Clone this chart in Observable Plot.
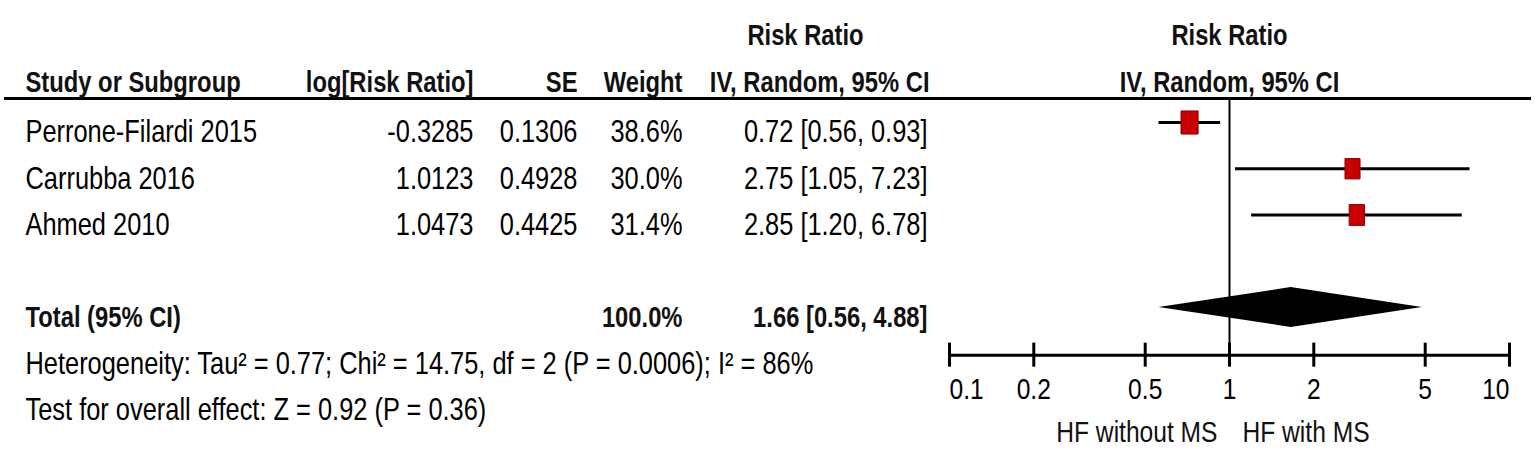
<!DOCTYPE html>
<html><head><meta charset="utf-8">
<script src="https://cdn.jsdelivr.net/npm/d3@7"></script>
<script src="https://cdn.jsdelivr.net/npm/@observablehq/plot@0.6"></script>
<style>html,body{margin:0;padding:0;background:#fff;} #chart svg{display:block;}</style>
</head><body><div id="chart"></div>
<script>
// ---- data ----
const studies = ["Perrone-Filardi 2015", "Carrubba 2016", "Ahmed 2010"];
const logRR = [-0.3285, 1.0123, 1.0473];
const se = [0.1306, 0.4928, 0.4425];
const weight = [38.6, 30.0, 31.4];
const rr = [0.72, 2.75, 2.85];
const ciLow = [0.56, 1.05, 1.20];
const ciHigh = [0.93, 7.23, 6.78];
const totalLabel = "Total (95% CI)";
const totalWeight = 100.0;
const totalRR = 1.66, totalLow = 0.56, totalHigh = 4.88;
const heterogeneity = "Heterogeneity: Tau\u00B2 = 0.77; Chi\u00B2 = 14.75, df = 2 (P = 0.0006); I\u00B2 = 86%";
const overallTest = "Test for overall effect: Z = 0.92 (P = 0.36)";
const tickValues = [0.1, 0.2, 0.5, 1, 2, 5, 10];
const tickLabels = ["0.1", "0.2", "0.5", "1", "2", "5", "10"];
const headerTop = "Risk Ratio";
const headerCols = ["Study or Subgroup", "log[Risk Ratio]", "SE", "Weight", "IV, Random, 95% CI"];
const favoursLeft = "HF without MS";
const favoursRight = "HF with MS";

// ---- font detection ----
function hasFont(name) {
  const c = document.createElement("canvas").getContext("2d");
  const s = "Perrone-Filardi 2015 Heterogeneity WMi";
  c.font = "30px monospace"; const a = c.measureText(s).width;
  c.font = `30px '${name}', monospace`; const b = c.measureText(s).width;
  return Math.abs(a - b) > 0.5;
}
const narrow = hasFont("Liberation Sans Narrow");
const FONT = narrow ? "'Liberation Sans Narrow', sans-serif" : "'Liberation Sans', Arial, sans-serif";
const SX = narrow ? 1 : 0.82;

// ---- layout ----
const W = 1535, H = 475, ML = 4, MR = 4;
const FS = 31, FSH = 29;
const rowIdx = {total: 4, het: 5, test: 6};
const Y = {head1: -2.1, head2: -1.08, rule: -0.52, axis: 5.03, tickTop: 4.77, tickBot: 5.29, tickLab: 5.77, fav: 6.7};
const COL = {study: 25, logrr: 473, se: 577, weight: 682, ci: 927, rrHead: 805};

const rows = studies.map((s, i) => ({i, study: s, logrr: logRR[i], se: se[i], w: weight[i], rr: rr[i], lo: ciLow[i], hi: ciHigh[i]}));
const fmtCI = (e, l, h) => `${e.toFixed(2)} [${l.toFixed(2)}, ${h.toFixed(2)}]`;
const total = [{i: rowIdx.total, label: totalLabel, w: totalWeight, rr: totalRR, lo: totalLow, hi: totalHigh}];
const diamond = [
  {x: totalLow, y1: rowIdx.total, y2: rowIdx.total},
  {x: totalRR, y1: rowIdx.total - 0.43, y2: rowIdx.total + 0.43},
  {x: totalHigh, y1: rowIdx.total, y2: rowIdx.total}
];

const colText = (data, opts, xPos, anchor, extra = {}) => Plot.text(data, {
  frameAnchor: "left", textAnchor: anchor, dx: xPos - ML, dy: 10, fontSize: FS, fill: "#000", ...opts, ...extra
});

const rectSymbol = {draw(ctx, size) {
  const h = Math.sqrt(size / 0.74), w = 0.74 * h;
  ctx.moveTo(-w / 2, -h / 2); ctx.lineTo(w / 2, -h / 2); ctx.lineTo(w / 2, h / 2); ctx.lineTo(-w / 2, h / 2); ctx.closePath();
}};

const chart = Plot.plot({
  width: W, height: H,
  marginLeft: ML, marginRight: MR, marginTop: 0, marginBottom: 0,
  style: {fontFamily: FONT, background: "#fff"},
  x: {type: "log", domain: [0.1, 10], range: [949, 1509], axis: null},
  y: {type: "linear", domain: [0, 4], range: [122, 307], axis: null},
  r: {type: "sqrt", domain: [0, 40], range: [0, 11.4]},
  marks: [
    // header rule
    Plot.ruleY([Y.rule], {stroke: "#000", strokeWidth: 3}),
    // headers (table)
    colText([headerTop], {y: () => Y.head1, text: d => d}, COL.rrHead, "middle", {fontWeight: "bold", fontSize: FSH, fill: "#111"}),
    colText([headerCols[0]], {y: () => Y.head2, text: d => d}, COL.study, "start", {fontWeight: "bold", fontSize: FSH, fill: "#111"}),
    colText([headerCols[1]], {y: () => Y.head2, text: d => d}, COL.logrr, "end", {fontWeight: "bold", fontSize: FSH, fill: "#111"}),
    colText([headerCols[2]], {y: () => Y.head2, text: d => d}, COL.se, "end", {fontWeight: "bold", fontSize: FSH, fill: "#111"}),
    colText([headerCols[3]], {y: () => Y.head2, text: d => d}, COL.weight, "end", {fontWeight: "bold", fontSize: FSH, fill: "#111"}),
    colText([headerCols[4]], {y: () => Y.head2, text: d => d}, COL.ci + 2, "end", {fontWeight: "bold", fontSize: FSH, fill: "#111"}),
    // headers (plot)
    Plot.text([headerTop], {x: () => 1, y: () => Y.head1, text: d => d, dy: 10, fontWeight: "bold", fontSize: FSH, fill: "#111"}),
    Plot.text([headerCols[4]], {x: () => 1, y: () => Y.head2, text: d => d, dy: 10, fontWeight: "bold", fontSize: FSH, fill: "#111"}),
    // study rows
    colText(rows, {y: "i", text: "study"}, COL.study, "start"),
    colText(rows, {y: "i", text: d => d.logrr.toFixed(4)}, COL.logrr, "end"),
    colText(rows, {y: "i", text: d => d.se.toFixed(4)}, COL.se, "end"),
    colText(rows, {y: "i", text: d => d.w.toFixed(1) + "%"}, COL.weight, "end"),
    colText(rows, {y: "i", text: d => fmtCI(d.rr, d.lo, d.hi)}, COL.ci, "end"),
    // total row
    colText(total, {y: "i", text: "label"}, COL.study, "start", {fontWeight: "bold", fontSize: FSH, fill: "#111"}),
    colText(total, {y: "i", text: d => d.w.toFixed(1) + "%"}, COL.weight, "end", {fontWeight: "bold", fontSize: FSH, fill: "#111"}),
    colText(total, {y: "i", text: d => fmtCI(d.rr, d.lo, d.hi)}, COL.ci, "end", {fontWeight: "bold", fontSize: FSH, fill: "#111"}),
    // footnotes
    colText([heterogeneity], {y: () => rowIdx.het, text: d => d}, COL.study, "start"),
    colText([overallTest], {y: () => rowIdx.test, text: d => d}, COL.study, "start"),
    // null line
    Plot.ruleX([1], {y1: Y.rule, y2: Y.axis, stroke: "#000", strokeWidth: 2}),
    // CIs and squares
    Plot.ruleY(rows, {y: "i", x1: "lo", x2: "hi", stroke: "#000", strokeWidth: 3}),
    Plot.dot(rows, {x: "rr", y: "i", r: "w", symbol: rectSymbol, fill: "#c80000", stroke: "#8a0000", strokeWidth: 1}),
    // diamond
    Plot.areaY(diamond, {x: "x", y1: "y1", y2: "y2", fill: "#000"}),
    // axis
    Plot.ruleY([Y.axis], {x1: tickValues[0], x2: tickValues[tickValues.length - 1], stroke: "#000", strokeWidth: 3}),
    Plot.ruleX(tickValues, {y1: Y.tickTop, y2: Y.tickBot, stroke: "#000", strokeWidth: 3}),
    Plot.text(tickValues.slice(1, -1), {x: d => d, y: () => Y.tickLab, text: (d, i) => tickLabels[i + 1], fontSize: 30, fill: "#000"}),
    Plot.text([tickValues[0]], {x: d => d, y: () => Y.tickLab, text: () => tickLabels[0], textAnchor: "start", fontSize: 30, fill: "#000"}),
    Plot.text([tickValues[tickValues.length - 1]], {x: d => d, y: () => Y.tickLab, text: () => tickLabels[tickLabels.length - 1], textAnchor: "end", fontSize: 30, fill: "#000"}),
    // favours labels
    Plot.text([favoursLeft], {x: () => 1, y: () => Y.fav, text: d => d, textAnchor: "end", dx: -12, fontSize: 30, fill: "#111"}),
    Plot.text([favoursRight], {x: () => 1, y: () => Y.fav, text: d => d, textAnchor: "start", dx: 13, fontSize: 30, fill: "#111"})
  ]
});

if (SX !== 1) {
  chart.querySelectorAll("text").forEach(t => {
    const tr = t.getAttribute("transform") || "";
    t.setAttribute("transform", (tr + ` scale(${SX},1)`).trim());
  });
}
document.getElementById("chart").appendChild(chart);
</script>
</body></html>
